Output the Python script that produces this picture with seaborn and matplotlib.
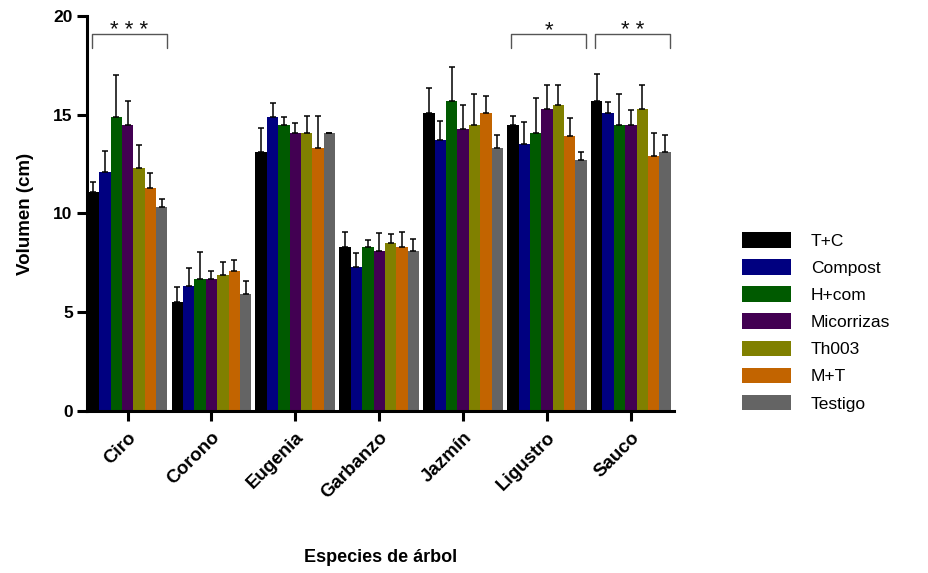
import numpy as np
import pandas as pd
import matplotlib
matplotlib.use("Agg")
import matplotlib.pyplot as plt
import seaborn as sns

species = ["Ciro", "Corono", "Eugenia", "Garbanzo", "Jazmín", "Ligustro", "Sauco"]
treatments = ["T+C", "Compost", "H+com", "Micorrizas", "Th003", "M+T", "Testigo"]
colors = ["#000000", "#000080", "#005a00", "#420052", "#808000", "#c26400", "#646464"]

mean_tc = [11.1, 5.5, 13.1, 8.3, 15.1, 14.5, 15.7]
mean_compost = [12.1, 6.3, 14.9, 7.3, 13.7, 13.5, 15.1]
mean_hcom = [14.9, 6.7, 14.5, 8.3, 15.7, 14.1, 14.5]
mean_mic = [14.5, 6.7, 14.1, 8.1, 14.3, 15.3, 14.5]
mean_th = [12.3, 6.9, 14.1, 8.5, 14.5, 15.5, 15.3]
mean_mt = [11.3, 7.1, 13.3, 8.3, 15.1, 13.9, 12.9]
mean_test = [10.35, 5.9, 14.1, 8.1, 13.3, 12.7, 13.1]

err_tc = [0.5, 0.75, 1.25, 0.75, 1.25, 0.45, 1.35]
err_compost = [1.05, 0.95, 0.7, 0.7, 1.0, 1.15, 0.55]
err_hcom = [2.1, 1.35, 0.4, 0.35, 1.7, 1.75, 1.55]
err_mic = [1.2, 0.4, 0.5, 0.9, 1.2, 1.2, 0.75]
err_th = [1.15, 0.65, 0.85, 0.45, 1.55, 1.0, 1.2]
err_mt = [0.75, 0.55, 1.65, 0.75, 0.85, 0.95, 1.15]
err_test = [0.4, 0.7, 0.0, 0.6, 0.65, 0.4, 0.85]

sig_species = ["Ciro", "Ligustro", "Sauco"]
sig_labels = ["* * *", "*", "* *"]

means = [mean_tc, mean_compost, mean_hcom, mean_mic, mean_th, mean_mt, mean_test]
errs = [err_tc, err_compost, err_hcom, err_mic, err_th, err_mt, err_test]

rows = []
for t, m in zip(treatments, means):
    for s, v in zip(species, m):
        rows.append({"Especie": s, "Tratamiento": t, "Volumen": v})
df = pd.DataFrame(rows)

sns.set_style("ticks")
plt.rcParams["font.family"] = ["Liberation Sans", "DejaVu Sans"]
for k in ["text.color", "axes.labelcolor", "xtick.color", "ytick.color",
          "axes.edgecolor"]:
    plt.rcParams[k] = "black"

fig = plt.figure(figsize=(9.29, 5.73), dpi=100)
ax = fig.add_axes([0.094, 0.283, 0.632, 0.689])

sns.barplot(data=df, x="Especie", y="Volumen", hue="Tratamiento",
            order=species, hue_order=treatments, palette=colors, saturation=1,
            errorbar=None, width=0.95, gap=0, dodge=True, ax=ax,
            edgecolor="none", linewidth=0, legend=True)

for cont, e in zip(ax.containers, errs):
    xs = [b.get_x() + b.get_width() / 2 for b in cont]
    ys = [b.get_height() for b in cont]
    ax.errorbar(xs, ys, yerr=[np.zeros(len(e)), e], fmt="none",
                ecolor="black", elinewidth=1.1, capsize=2.2, capthick=1.1, zorder=5)

# significance brackets
for s, lab in zip(sig_species, sig_labels):
    i = species.index(s)
    x0, x1 = i - 0.43, i + 0.47
    ax.plot([x0, x0, x1, x1], [18.4, 19.1, 19.1, 18.4], color="#555555", lw=1.0,
            clip_on=False)
    ax.text((x0 + x1) / 2, 18.75, lab, ha="center", va="bottom", fontsize=16,
            color="#111111")

ax.set_ylim(0, 20)
ax.set_xlim(-0.48, 6.52)
ax.set_yticks([0, 5, 10, 15, 20])
ax.set_yticklabels(["0", "5", "10", "15", "20"], fontsize=12.5, fontweight="bold")
ax.set_xticks(range(len(species)))
ax.set_xticklabels(species, rotation=45, ha="right", rotation_mode="anchor",
                   fontsize=13.5, fontweight="bold")
ax.set_xlabel("Especies de árbol", fontsize=13, fontweight="bold", labelpad=34)
ax.set_ylabel("Volumen (cm)", fontsize=13.5, fontweight="bold", labelpad=14)

for side in ["top", "right"]:
    ax.spines[side].set_visible(False)
for side in ["left", "bottom"]:
    ax.spines[side].set_linewidth(2.2)
ax.tick_params(axis="both", direction="out", length=7, width=2.2, color="black")
ax.tick_params(axis="x", pad=6)

handles, labels = ax.get_legend_handles_labels()
ax.legend_.remove()
fig.legend(handles, labels, loc="upper left", bbox_to_anchor=(0.799, 0.595),
           frameon=False, fontsize=12.5, handlelength=2.8, handleheight=1.0,
           labelspacing=0.6, handletextpad=1.15, borderpad=0, borderaxespad=0)

fig.savefig("out.png", dpi=100)
